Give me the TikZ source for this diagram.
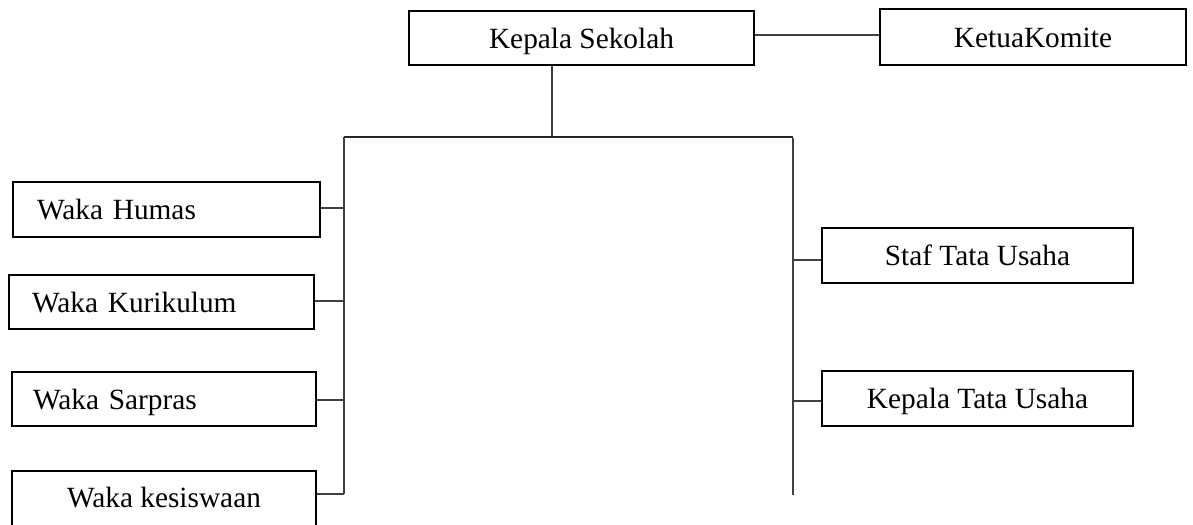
\documentclass[tikz,border=0pt]{standalone}
\usepackage{fontspec}
\setmainfont{Liberation Serif}
\begin{document}
\begin{tikzpicture}[x=0.75pt,y=-0.75pt,
  box/.style={draw=black,line width=1.6pt,rectangle,inner sep=0pt,
    font=\fontsize{22}{26}\selectfont,text height=20pt,text depth=5pt},
  conn/.style={draw=black!75,line width=1.1pt},
  bar/.style={draw=black!85,line width=1.7pt}]
\useasboundingbox (0,0) rectangle (1193,525);
% boxes
\node[box,minimum width=345*0.75pt,minimum height=54*0.75pt] (ks) at (581.5,38) {Kepala Sekolah};
\node[box,minimum width=306*0.75pt,minimum height=56*0.75pt] (kk) at (1033,37) {KetuaKomite};
\node[box,minimum height=55*0.75pt,text width=(307-48)*0.75pt,inner xsep=24*0.75pt,align=left] (hum) at (166.5,209.5) {Waka Humas};
\node[box,minimum height=54*0.75pt,text width=(305-46)*0.75pt,inner xsep=23*0.75pt,align=left] (kur) at (161.5,302) {Waka Kurikulum};
\node[box,minimum height=54*0.75pt,text width=(304-42)*0.75pt,inner xsep=21*0.75pt,align=left] (sar) at (164,399) {Waka Sarpras};
\node[box,minimum width=304*0.75pt,minimum height=64*0.75pt,text height=11pt] (kes) at (164,503) {Waka kesiswaan};
\node[box,minimum width=311*0.75pt,minimum height=55*0.75pt] (staf) at (977.5,255.5) {Staf Tata Usaha};
\node[box,minimum width=311*0.75pt,minimum height=55*0.75pt] (ktu) at (977.5,398.5) {Kepala Tata Usaha};
% coordinates
\coordinate (kdrop) at (552,137);
\coordinate (bl) at (344,137);
\coordinate (br) at (793,137);
\coordinate (lend) at (344,494);
\coordinate (rend) at (793,495);
% connectors
\draw[conn] (ks.east |- 0,35) -- (kk.west |- 0,35);
\draw[conn] (ks.south -| kdrop) -- (kdrop);
\draw[bar] (bl) -- (br);
\draw[conn] (bl) -- (lend);
\draw[conn] ([yshift=-0.75pt]br) -- (rend);
\draw[conn] (hum.east |- 0,208) -- (bl |- 0,208);
\draw[conn] (kur.east |- 0,301) -- (bl |- 0,301);
\draw[conn] (sar.east |- 0,400) -- (bl |- 0,400);
\draw[conn] (kes.east |- lend) -- (lend);
\draw[conn] (br |- 0,260) -- (staf.west |- 0,260);
\draw[conn] (br |- 0,401) -- (ktu.west |- 0,401);
\end{tikzpicture}
\end{document}
